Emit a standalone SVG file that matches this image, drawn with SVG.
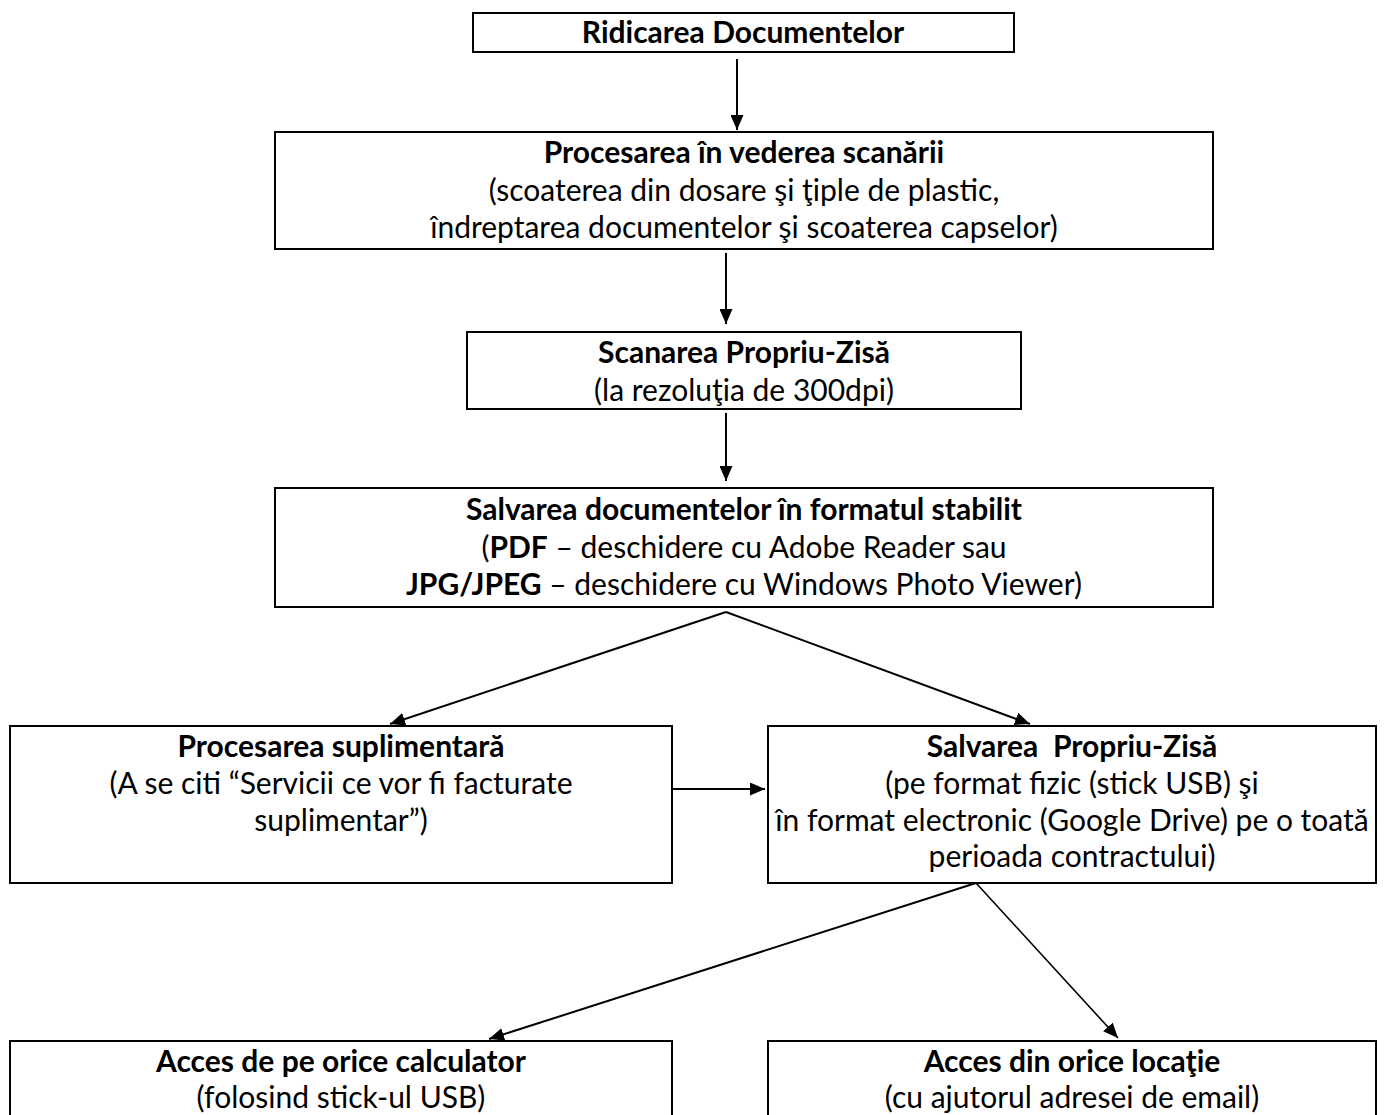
<svg xmlns="http://www.w3.org/2000/svg" width="1385" height="1115" viewBox="0 0 1385 1115">
  <style>
    .box { fill: #ffffff; stroke: #000000; stroke-width: 2; }
    .t { font-family: Lato, "Liberation Sans", sans-serif; font-size: 30px; fill: #000000; text-anchor: middle; }
    .b { font-weight: bold; }
    .conn line { stroke: #000000; stroke-width: 2; fill: none; }
  </style>
  <defs>
    <marker id="arrow" markerUnits="userSpaceOnUse" markerWidth="15" markerHeight="13" refX="15" refY="6.5" orient="auto">
      <path d="M0,0 L15,6.5 L0,13 z" fill="#000000"/>
    </marker>
  </defs>
  <rect width="1385" height="1115" fill="#ffffff"/>

  <g id="n1">
    <rect class="box" x="473" y="13" width="541" height="39"/>
    <text class="t b" x="743" y="43">Ridicarea Documentelor</text>
  </g>
  <g id="n2">
    <rect class="box" x="275" y="132" width="938" height="117"/>
    <text class="t b" x="744" y="163">Procesarea în vederea scanării</text>
    <text class="t" x="744" y="200.5">(scoaterea din dosare şi ţiple de plastic,</text>
    <text class="t" x="744" y="238">îndreptarea documentelor şi scoaterea capselor)</text>
  </g>
  <g id="n3">
    <rect class="box" x="467" y="332" width="554" height="77"/>
    <text class="t b" x="744" y="363">Scanarea Propriu-Zisă</text>
    <text class="t" x="744" y="400.5">(la rezoluţia de 300dpi)</text>
  </g>
  <g id="n4">
    <rect class="box" x="275" y="488" width="938" height="119"/>
    <text class="t b" x="744" y="520">Salvarea documentelor în formatul stabilit</text>
    <text class="t" x="744" y="557.5">(<tspan class="b">PDF</tspan> – deschidere cu Adobe Reader sau</text>
    <text class="t" x="744" y="595"><tspan class="b">JPG/JPEG</tspan> – deschidere cu Windows Photo Viewer)</text>
  </g>
  <g id="n5">
    <rect class="box" x="10" y="726" width="662" height="157"/>
    <text class="t b" x="341" y="757">Procesarea suplimentară</text>
    <text class="t" x="341" y="794">(A se citi “Servicii ce vor fi facturate</text>
    <text class="t" x="341" y="831">suplimentar”)</text>
  </g>
  <g id="n6">
    <rect class="box" x="768" y="726" width="608" height="157"/>
    <text class="t b" x="1072" y="757" xml:space="preserve">Salvarea  Propriu-Zisă</text>
    <text class="t" x="1072" y="794">(pe format fizic (stick USB) şi</text>
    <text class="t" x="1072" y="831">în format electronic (Google Drive) pe o toată</text>
    <text class="t" x="1072" y="867">perioada contractului)</text>
  </g>
  <g id="n7">
    <rect class="box" x="10" y="1041" width="662" height="80"/>
    <text class="t b" x="341" y="1072">Acces de pe orice calculator</text>
    <text class="t" x="341" y="1108">(folosind stick-ul USB)</text>
  </g>
  <g id="n8">
    <rect class="box" x="768" y="1041" width="608" height="80"/>
    <text class="t b" x="1072" y="1072">Acces din orice locaţie</text>
    <text class="t" x="1072" y="1108">(cu ajutorul adresei de email)</text>
  </g>

  <g id="connectors" class="conn">
    <line x1="737" y1="59" x2="737" y2="130" marker-end="url(#arrow)"/>
    <line x1="726" y1="253" x2="726" y2="324" marker-end="url(#arrow)"/>
    <line x1="726" y1="413" x2="726" y2="481" marker-end="url(#arrow)"/>
    <line x1="726" y1="612" x2="390" y2="724" marker-end="url(#arrow)"/>
    <line x1="726" y1="612" x2="1030" y2="724" marker-end="url(#arrow)"/>
    <line x1="672" y1="789" x2="765" y2="789" marker-end="url(#arrow)"/>
    <line x1="976" y1="883" x2="489" y2="1039" marker-end="url(#arrow)"/>
    <line x1="976" y1="883" x2="1118" y2="1038" marker-end="url(#arrow)" style="stroke-width:1.6"/>
  </g>
</svg>
